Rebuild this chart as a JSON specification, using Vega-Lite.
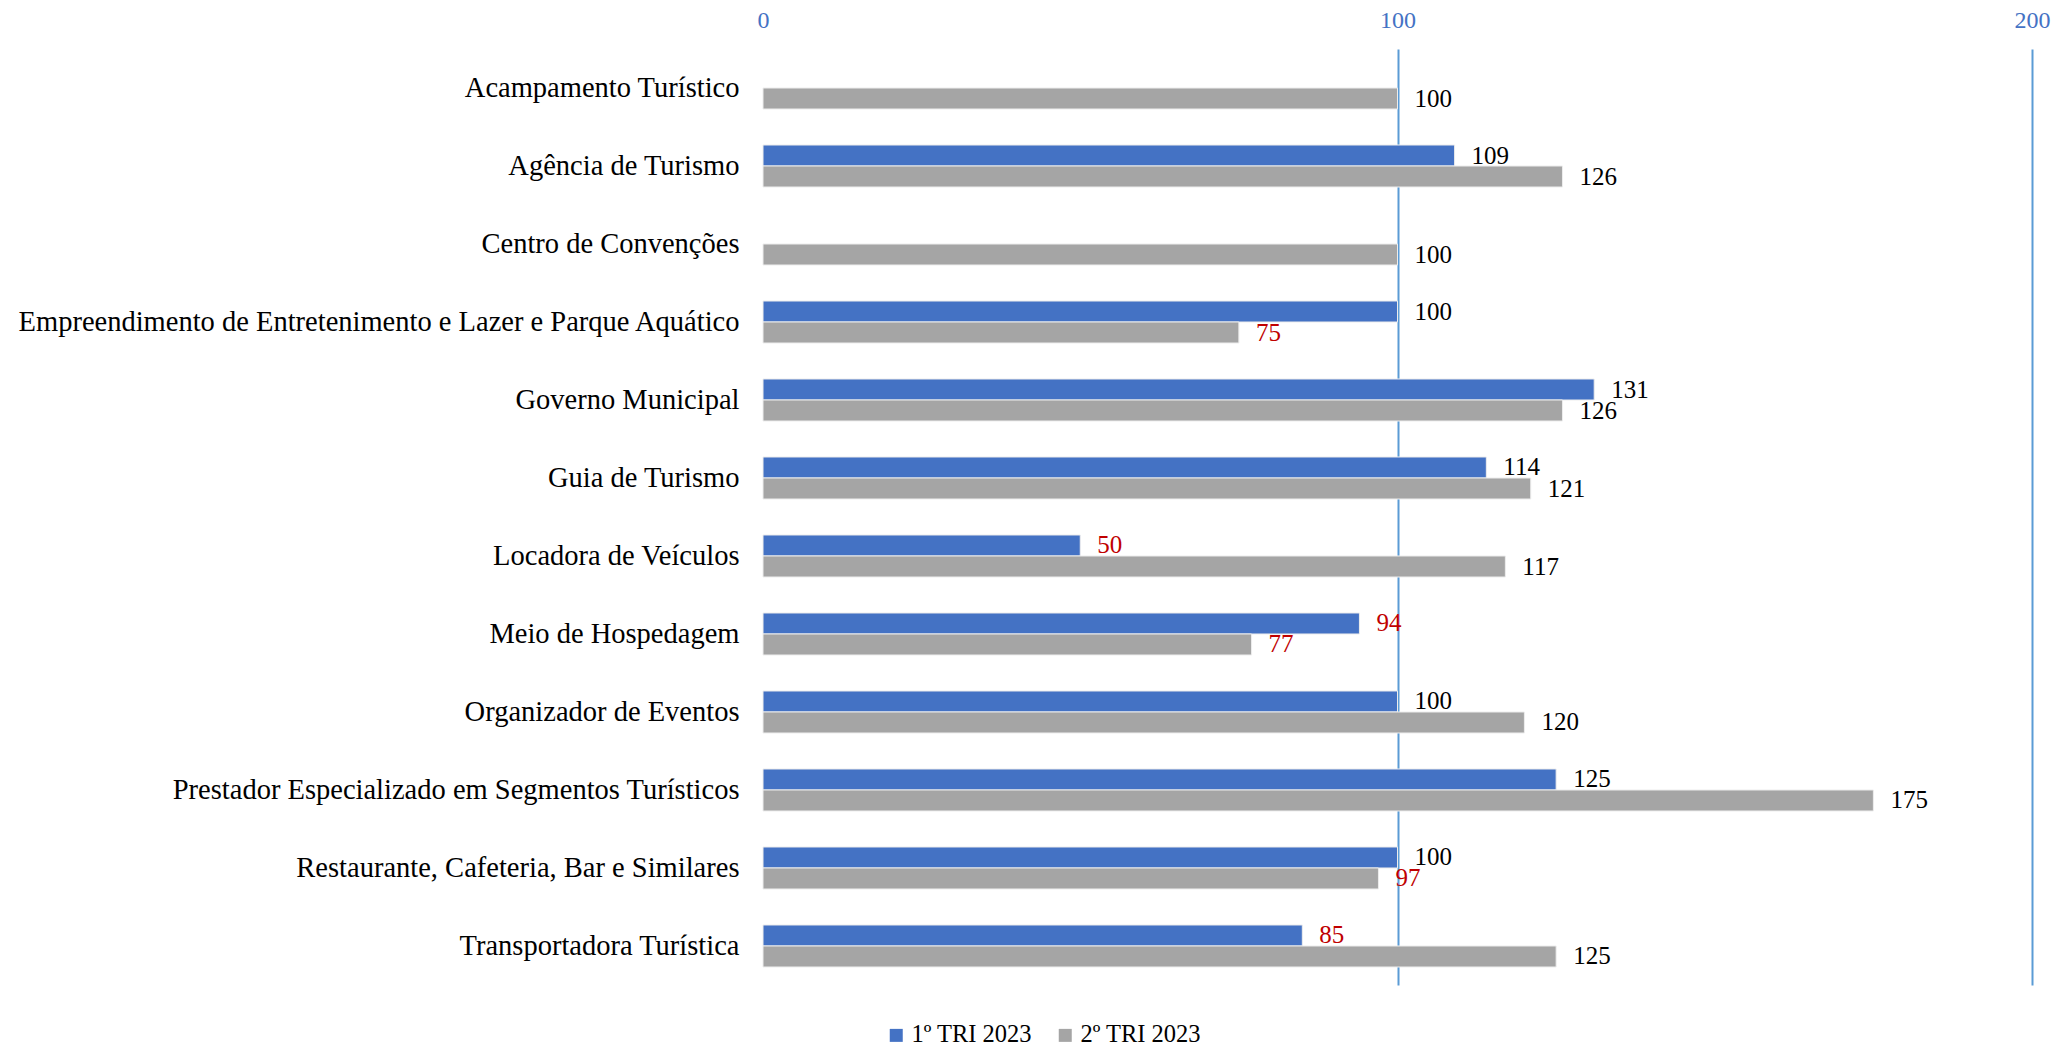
{
  "$schema": "https://vega.github.io/schema/vega-lite/v6.json",
  "width": 1269,
  "height": 936,
  "autosize": "none",
  "padding": {"left": 763, "top": 49, "right": 29, "bottom": 63},
  "background": "white",
  "config": {"view": {"stroke": null}, "font": "Liberation Serif"},
  "data": {"values": [
    {"cat": "Acampamento Turístico", "series": "2º TRI 2023", "value": 100},
    {"cat": "Agência de Turismo", "series": "1º TRI 2023", "value": 109},
    {"cat": "Agência de Turismo", "series": "2º TRI 2023", "value": 126},
    {"cat": "Centro de Convenções", "series": "2º TRI 2023", "value": 100},
    {"cat": "Empreendimento de Entretenimento e Lazer e Parque Aquático", "series": "1º TRI 2023", "value": 100},
    {"cat": "Empreendimento de Entretenimento e Lazer e Parque Aquático", "series": "2º TRI 2023", "value": 75},
    {"cat": "Governo Municipal", "series": "1º TRI 2023", "value": 131},
    {"cat": "Governo Municipal", "series": "2º TRI 2023", "value": 126},
    {"cat": "Guia de Turismo", "series": "1º TRI 2023", "value": 114},
    {"cat": "Guia de Turismo", "series": "2º TRI 2023", "value": 121},
    {"cat": "Locadora de Veículos", "series": "1º TRI 2023", "value": 50},
    {"cat": "Locadora de Veículos", "series": "2º TRI 2023", "value": 117},
    {"cat": "Meio de Hospedagem", "series": "1º TRI 2023", "value": 94},
    {"cat": "Meio de Hospedagem", "series": "2º TRI 2023", "value": 77},
    {"cat": "Organizador de Eventos", "series": "1º TRI 2023", "value": 100},
    {"cat": "Organizador de Eventos", "series": "2º TRI 2023", "value": 120},
    {"cat": "Prestador Especializado em Segmentos Turísticos", "series": "1º TRI 2023", "value": 125},
    {"cat": "Prestador Especializado em Segmentos Turísticos", "series": "2º TRI 2023", "value": 175},
    {"cat": "Restaurante, Cafeteria, Bar e Similares", "series": "1º TRI 2023", "value": 100},
    {"cat": "Restaurante, Cafeteria, Bar e Similares", "series": "2º TRI 2023", "value": 97},
    {"cat": "Transportadora Turística", "series": "1º TRI 2023", "value": 85},
    {"cat": "Transportadora Turística", "series": "2º TRI 2023", "value": 125}
  ]},
  "encoding": {
    "y": {
      "field": "cat", "type": "nominal", "sort": null,
      "scale": {"paddingInner": 0.4615, "paddingOuter": 0.2308},
      "axis": {"title": null, "domain": false, "ticks": false, "labelFontSize": 28.5, "labelColor": "#000000", "labelPadding": 24, "labelLimit": 1000, "labelFont": "Liberation Serif"}
    },
    "yOffset": {
      "field": "series", "type": "nominal",
      "scale": {"domain": ["1º TRI 2023", "2º TRI 2023"], "paddingInner": 0, "paddingOuter": 0}
    },
    "x": {
      "field": "value", "type": "quantitative",
      "scale": {"domain": [0, 200], "nice": false, "zero": true},
      "axis": {
        "orient": "top", "title": null, "domain": false, "ticks": false,
        "values": [0, 100, 200], "grid": true,
        "gridColor": {"condition": {"test": "datum.value === 0", "value": "transparent"}, "value": "#5B9BD5"},
        "gridWidth": 2,
        "labelColor": "#4472C4", "labelFontSize": 24, "labelPadding": 17, "labelFlush": false, "labelFont": "Liberation Serif"
      }
    }
  },
  "layer": [
    {
      "mark": {"type": "bar", "stroke": "#EDEDED", "strokeWidth": 1},
      "encoding": {
        "color": {
          "field": "series", "type": "nominal",
          "scale": {"domain": ["1º TRI 2023", "2º TRI 2023"], "range": ["#4472C4", "#A5A5A5"]},
          "legend": {
            "title": null, "orient": "none", "direction": "horizontal",
            "legendX": 121, "legendY": 974,
            "symbolType": "square", "symbolSize": 169, "symbolStrokeWidth": 0,
            "labelFontSize": 24.5, "labelColor": "#000000", "labelFont": "Liberation Serif",
            "labelOffset": 3, "columnPadding": 20
          }
        }
      }
    },
    {
      "mark": {"type": "text", "align": "left", "baseline": "middle", "dx": 17, "fontSize": 25, "font": "Liberation Serif"},
      "encoding": {
        "text": {"field": "value", "type": "quantitative"},
        "color": {"condition": {"test": "datum.value < 100", "value": "#C00000"}, "value": "#000000"}
      }
    }
  ]
}
